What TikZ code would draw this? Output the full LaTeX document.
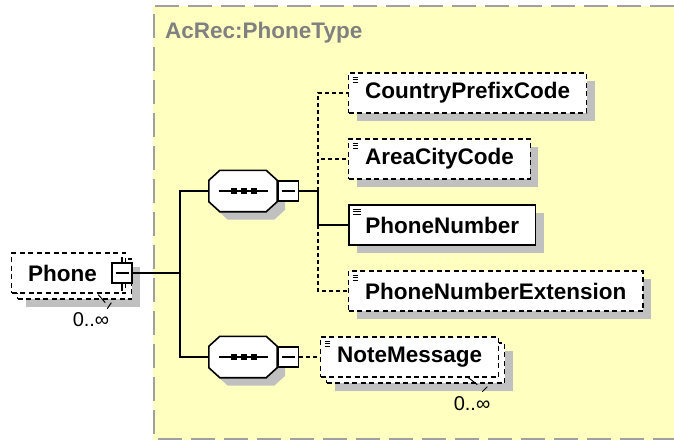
\documentclass[tikz,border=0pt]{standalone}
\usepackage{fontspec}
\setmainfont{Liberation Sans}
\usetikzlibrary{shadows}
\definecolor{typebg}{RGB}{255,255,192}
\definecolor{typeline}{RGB}{160,160,160}
\definecolor{shadegrey}{RGB}{192,192,192}
\definecolor{titlegrey}{RGB}{128,128,128}
\newcommand{\elemfont}{\fontsize{22.5}{27}\selectfont\bfseries}
\begin{document}
\begin{tikzpicture}[x=1pt,y=-1pt,line join=miter,
  shade/.style={general shadow={shadow xshift=8pt,shadow yshift=-8pt,fill=shadegrey,draw=none}},
  box/.style={draw,fill=white,minimum height=40pt,inner xsep=16.5pt,inner ysep=0pt,font=\elemfont},
  icon/.style={path picture={\foreach \k in {0,1,2}
      \draw[line width=0.8pt] ([xshift=4pt,yshift={-4pt-\k*2.8pt}]path picture bounding box.north west) -- ++(8pt,0pt);}},
  must/.style={box,icon,shade,line width=1.6pt},
  opt/.style={box,icon,shade,line width=1.3pt,dash pattern=on 5pt off 3.5pt},
  many/.style={box,line width=1.3pt,dash pattern=on 5pt off 3.5pt,
    general shadow={shadow xshift=14pt,shadow yshift=-14pt,fill=shadegrey,draw=none},
    general shadow={shadow xshift=6pt,shadow yshift=-6pt,fill=white,draw=black,line width=1.3pt,dash pattern=on 5pt off 3.5pt}},
  seq/.style={minimum width=68pt,minimum height=41pt,inner sep=0pt},
  expand/.style={draw,fill=white,line width=1.3pt,minimum width=20pt,minimum height=20pt,inner sep=0pt,
    path picture={\draw[line width=1.3pt] ([xshift=-6.5pt]path picture bounding box.center) -- ([xshift=6.5pt]path picture bounding box.center);}},
  mult/.style={font=\fontsize{20}{24}\selectfont,inner sep=0pt},
  link/.style={line width=1.6pt},
  optlink/.style={line width=1.3pt,dash pattern=on 4pt off 3pt},
]
\useasboundingbox (0,0) rectangle (674,440);
%% complex type area
\fill[typebg] (153,6) rectangle (674,440);
\draw[typeline,line width=2.5pt,dash pattern=on 24pt off 9pt] (674,6) -- (154,6) -- (154,439) -- (674,439);
\node (type_title) at (165,33) [anchor=west,text=titlegrey,font=\elemfont,inner sep=0pt] {AcRec:PhoneType};
%% nodes
\node (node_phone) at (11,273) [many,anchor=west,text width=81pt,align=left] {Phone};
\node (node_phone_x) at (122,273) [expand] {};
\node (mult_phone) at (91,320) [mult] {0..∞};
\node (node_seq1) at (243,191) [seq] {};
\node (node_seq2) at (243,357) [seq] {};
\node (node_country) at (348,93) [opt,anchor=west] {CountryPrefixCode};
\node (node_area) at (348,159) [opt,anchor=west] {AreaCityCode};
\node (node_number) at (348,225) [must,anchor=west] {PhoneNumber};
\node (node_ext) at (348,291) [opt,anchor=west] {PhoneNumberExtension};
\node (node_note) at (320,357) [many,icon,anchor=west] {NoteMessage};
\node (mult_note) at (472,404) [mult] {0..∞};
\coordinate (split_phone) at (180,273);
\coordinate (split_seq) at (318,191);
\coordinate (split_number) at (split_seq |- node_number.west);
%% sequence compositors
\foreach \s in {node_seq1,node_seq2} {
  \begin{scope}[transform canvas={shift={(8pt,-8pt)}}]
    \fill[shadegrey] ([xshift=11pt]\s.north west) -- ([xshift=-11pt]\s.north east) -- ([yshift=-10pt]\s.north east)
      -- ([yshift=10pt]\s.south east) -- ([xshift=-11pt]\s.south east) -- ([xshift=11pt]\s.south west)
      -- ([yshift=10pt]\s.south west) -- ([yshift=-10pt]\s.north west) -- cycle;
  \end{scope}
  \draw[fill=white,line width=1.6pt] ([xshift=11pt]\s.north west) -- ([xshift=-11pt]\s.north east) -- ([yshift=-10pt]\s.north east)
    -- ([yshift=10pt]\s.south east) -- ([xshift=-11pt]\s.south east) -- ([xshift=11pt]\s.south west)
    -- ([yshift=10pt]\s.south west) -- ([yshift=-10pt]\s.north west) -- cycle;
  \draw[line width=1.3pt] ([xshift=-24pt]\s.center) -- ([xshift=25pt]\s.center);
  \foreach \d in {-9,1,11}
    \fill ([xshift=\d pt]\s.center) +(-2.8pt,-2.8pt) rectangle +(2.8pt,2.8pt);
}
\node (node_seq1_x) at (288.5,191) [expand] {};
\node (node_seq2_x) at (288.5,357) [expand] {};
%% connectors
\draw [link] (node_phone_x.north) -- ++(0pt,5pt);
\draw [link] (node_phone_x.south) -- ++(0pt,-7pt);
\draw [line width=1pt] ([xshift=-28pt,yshift=-1pt]node_phone.south east) -- ([xshift=-21pt,yshift=-9pt]node_phone.south east);
\draw [line width=1pt] ([xshift=-15pt,yshift=-9pt]node_phone.south east) -- ([xshift=-19pt,yshift=-15pt]node_phone.south east);
\draw [line width=1pt] ([xshift=-31pt,yshift=0pt]node_note.south east) -- ([xshift=-22pt,yshift=-7pt]node_note.south east);
\draw [line width=1pt] ([xshift=-12pt,yshift=-9pt]node_note.south east) -- ([xshift=-17pt,yshift=-14pt]node_note.south east);
\draw [link] (node_phone_x.east) -- (split_phone);
\draw [link] (node_seq1.west) -| (split_phone) |- (node_seq2.west);
\draw [link] (node_seq1_x.east) -- (split_seq) |- (node_number.west);
\draw [optlink] (split_seq) |- (node_country.west);
\draw [optlink] (split_seq) |- (node_area.west);
\draw [optlink] (split_number) |- (node_ext.west);
\draw [optlink] (node_seq2_x.east) -- (node_note.west);
%
\end{tikzpicture}
\end{document}
